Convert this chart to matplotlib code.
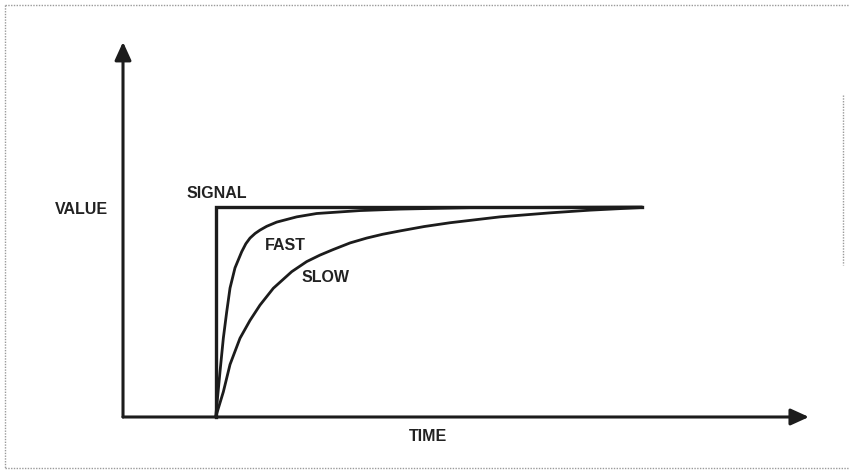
import matplotlib.pyplot as plt
from matplotlib.lines import Line2D

# step input and the two first-order responses (value as fraction of the step)
signal_t = [2.0, 2.0, 11.2]
signal_v = [0.0, 1.0, 1.0]

fast_t = [2.0, 2.093, 2.165, 2.237, 2.309, 2.416, 2.561, 2.65, 2.74, 2.85, 2.956,
          3.1, 3.316, 3.748, 4.179, 5.113, 5.976, 7.49, 11.2]
fast_v = [0.0, 0.216, 0.376, 0.50, 0.614, 0.71, 0.787, 0.825, 0.852, 0.874, 0.89,
          0.908, 0.928, 0.953, 0.969, 0.983, 0.99, 0.997, 1.0]

slow_t = [2.0, 2.165, 2.309, 2.524, 2.74, 2.956, 3.243, 3.64, 3.963, 4.25,
          4.531, 4.9, 5.258, 5.6, 5.976, 6.5, 7.055, 8.134, 9.21, 10.08, 11.15]
slow_v = [0.0, 0.12, 0.25, 0.375, 0.46, 0.533, 0.613, 0.692, 0.74, 0.771,
          0.797, 0.829, 0.852, 0.87, 0.886, 0.907, 0.925, 0.953, 0.972, 0.985, 0.997]

ink = '#1c1c1c'

fig = plt.figure(figsize=(8.49, 4.73), dpi=100)
ax = fig.add_axes([0, 0, 1, 1])
ax.set_xlim(-2.654, 15.664)
ax.set_ylim(-0.2667, 1.9857)
ax.axis('off')

# axes with arrow heads
arrow = dict(arrowstyle='-|>,head_length=1.1,head_width=0.5', mutation_scale=10,
             lw=2.2, color=ink, shrinkA=0, shrinkB=0)
ax.annotate('', xy=(0, 1.786), xytext=(0, 0), arrowprops=arrow)
ax.annotate('', xy=(14.8, 0), xytext=(0, 0), arrowprops=arrow)

ax.plot(signal_t, signal_v, color=ink, lw=2.4, solid_joinstyle='miter')
ax.plot(fast_t, fast_v, color=ink, lw=2.0, solid_capstyle='round', solid_joinstyle='round')
ax.plot(slow_t, slow_v, color=ink, lw=2.0, solid_capstyle='round', solid_joinstyle='round')

font = dict(family=['Liberation Sans', 'DejaVu Sans'], fontweight='bold',
            fontsize=11.5, color='#222222', va='center')
ax.text(-0.9, 0.99, 'VALUE', ha='center', **font)
ax.text(1.36, 1.066, 'SIGNAL', ha='left', **font)
ax.text(3.06, 0.819, 'FAST', ha='left', **font)
ax.text(3.85, 0.662, 'SLOW', ha='left', **font)
ax.text(6.59, -0.095, 'TIME', ha='center', **font)

# dotted frame around the figure
frame = dict(color='#9a9a9a', lw=1.0, linestyle=(0, (1, 1)))
W, H = 849, 473
def px_line(xs, ys):
    fig.add_artist(Line2D([x / W for x in xs], [1 - y / H for y in ys], **frame))
px_line([5, 849], [5, 5])
px_line([5, 5], [5, 468])
px_line([5, 849], [468, 468])
px_line([843, 843], [95, 265])

fig.savefig('out.png', dpi=100)
